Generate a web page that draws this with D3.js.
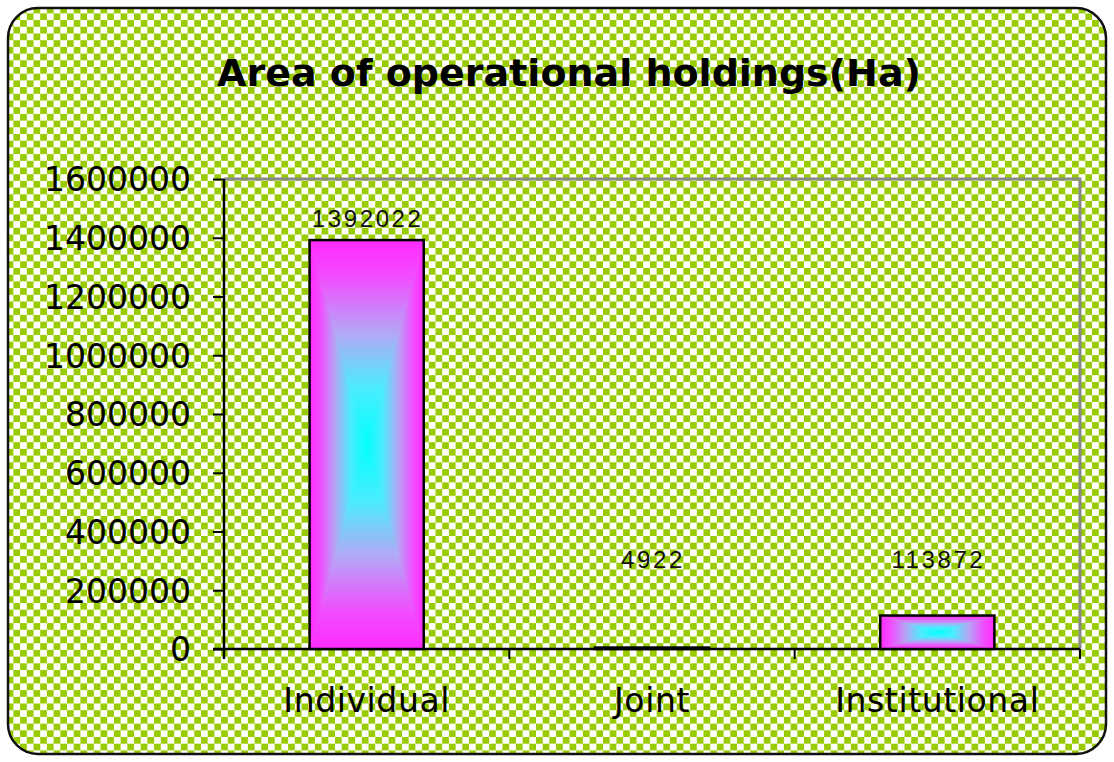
<!DOCTYPE html>
<html>
<head>
<meta charset="utf-8">
<script src="https://cdn.jsdelivr.net/npm/d3@7"></script>
<style>
  html, body { margin: 0; padding: 0; background: #fff; }
  svg { display: block; }
</style>
</head>
<body>
<svg id="stage" width="1114" height="762"></svg>
<script>
// chart data
const categories = ["Individual", "Joint", "Institutional"];
const values = [1392022, 4922, 113872];
const yTicks = [0, 200000, 400000, 600000, 800000, 1000000, 1200000, 1400000, 1600000];
const title = "Area of operational holdings(Ha)";

// labels never sit lower than this value on the y scale
const labelFloor = 231000;

const svg = d3.select("#stage");
const W = 1114, H = 762;
const plot = { left: 224, top: 179, right: 1080, bottom: 649 };

const defs = svg.append("defs");

// green / white checkerboard fill
const cell = 6.7;
const pat = defs.append("pattern")
  .attr("id", "checker")
  .attr("patternUnits", "userSpaceOnUse")
  .attr("width", cell * 2)
  .attr("height", cell * 2);
pat.append("rect").attr("width", cell * 2).attr("height", cell * 2).attr("fill", "#fff");
pat.append("rect").attr("width", cell).attr("height", cell).attr("fill", "#99cc00");
pat.append("rect").attr("x", cell).attr("y", cell).attr("width", cell).attr("height", cell).attr("fill", "#99cc00");

// box ("from centre") gradient: four directional linear gradients
const gradStops = [
  [0, "#ff2bff"],
  [0.18, "#f24cff"],
  [0.45, "#b4a6f6"],
  [0.72, "#4cecff"],
  [1, "#00ffff"],
];
const dirs = {
  top: [0, 0, 0, 1],
  bottom: [0, 1, 0, 0],
  left: [0, 0, 1, 0],
  right: [1, 0, 0, 0],
};
Object.entries(dirs).forEach(([k, [x1, y1, x2, y2]]) => {
  const g = defs.append("linearGradient")
    .attr("id", "grad-" + k)
    .attr("x1", x1).attr("y1", y1).attr("x2", x2).attr("y2", y2);
  gradStops.forEach(([o, c]) => g.append("stop").attr("offset", o).attr("stop-color", c));
});

// chart area background
svg.append("rect")
  .attr("x", 8).attr("y", 8)
  .attr("width", W - 16).attr("height", H - 16)
  .attr("rx", 30).attr("ry", 30)
  .attr("fill", "url(#checker)")
  .attr("stroke", "#111")
  .attr("stroke-width", 2.5);

// title
svg.append("text")
  .attr("x", 569).attr("y", 86)
  .attr("text-anchor", "middle")
  .attr("font-family", "'DejaVu Sans', sans-serif")
  .attr("font-weight", "bold")
  .attr("font-size", 38)
  .attr("fill", "#000")
  .text(title);

const x = d3.scaleBand()
  .domain(categories)
  .range([plot.left, plot.right])
  .paddingInner(0)
  .paddingOuter(0);

const y = d3.scaleLinear()
  .domain([0, d3.max(yTicks)])
  .range([plot.bottom, plot.top]);

// plot-area frame (grey top / right)
svg.append("path")
  .attr("d", `M${plot.left},${plot.top}H${plot.right}V${plot.bottom}`)
  .attr("fill", "none")
  .attr("stroke", "#888")
  .attr("stroke-width", 3);

// y axis
const yAxis = svg.append("g")
  .attr("transform", `translate(${plot.left},0)`)
  .call(d3.axisLeft(y).tickValues(yTicks).tickFormat(d3.format("d")).tickSize(11).tickPadding(22));
yAxis.select(".domain").attr("stroke", "#000").attr("stroke-width", 2.5)
  .attr("d", `M0,${plot.top}V${plot.bottom + 10}`);
yAxis.selectAll(".tick line").attr("stroke", "#000").attr("stroke-width", 2);
yAxis.selectAll(".tick text")
  .attr("font-family", "'DejaVu Sans', sans-serif")
  .attr("font-size", 33)
  .attr("dy", "0.36em")
  .attr("fill", "#000");

// x axis line and category boundary ticks
const xAxisG = svg.append("g");
xAxisG.append("line")
  .attr("x1", plot.left - 11).attr("x2", plot.right)
  .attr("y1", plot.bottom).attr("y2", plot.bottom)
  .attr("stroke", "#000").attr("stroke-width", 2.5);
const bounds = categories.map((c) => x(c)).concat([x(categories[categories.length - 1]) + x.bandwidth()]);
xAxisG.selectAll(".btick")
  .data(bounds.slice(1))
  .enter().append("line")
  .attr("x1", (d) => d).attr("x2", (d) => d)
  .attr("y1", plot.bottom).attr("y2", plot.bottom + 10)
  .attr("stroke", "#000").attr("stroke-width", 2);
xAxisG.selectAll(".xlabel")
  .data(categories)
  .enter().append("text")
  .attr("x", (d) => x(d) + x.bandwidth() / 2)
  .attr("y", plot.bottom + 63)
  .attr("text-anchor", "middle")
  .attr("font-family", "'DejaVu Sans', sans-serif")
  .attr("font-size", 33)
  .attr("letter-spacing", 0.6)
  .attr("fill", "#000")
  .text((d) => d);

// bars
const barW = x.bandwidth() * 0.4;
const bars = svg.selectAll(".bar")
  .data(categories.map((c, i) => ({ c, v: values[i] })))
  .enter().append("g")
  .attr("class", "bar");

bars.each(function (d) {
  const g = d3.select(this);
  const x0 = x(d.c) + (x.bandwidth() - barW) / 2;
  const x1 = x0 + barW;
  const y0 = y(d.v);
  const y1 = y(0);
  const cx = (x0 + x1) / 2, cy = (y0 + y1) / 2;
  const tris = [
    ["top", `M${x0},${y0}L${x1},${y0}L${cx},${cy}Z`],
    ["bottom", `M${x0},${y1}L${x1},${y1}L${cx},${cy}Z`],
    ["left", `M${x0},${y0}L${x0},${y1}L${cx},${cy}Z`],
    ["right", `M${x1},${y0}L${x1},${y1}L${cx},${cy}Z`],
  ];
  tris.forEach(([k, p]) => {
    g.append("path").attr("d", p).attr("fill", `url(#grad-${k})`)
      .attr("stroke", `url(#grad-${k})`).attr("stroke-width", 0.6);
  });
  g.append("rect")
    .attr("x", x0).attr("y", y0)
    .attr("width", barW).attr("height", Math.max(0, y1 - y0))
    .attr("fill", "none")
    .attr("stroke", "#000")
    .attr("stroke-width", 2.5);
});

// data labels
svg.selectAll(".dlabel")
  .data(categories.map((c, i) => ({ c, v: values[i] })))
  .enter().append("text")
  .attr("x", (d) => x(d.c) + x.bandwidth() / 2 + 1)
  .attr("y", (d) => y(Math.max(d.v, labelFloor)) - 13)
  .attr("text-anchor", "middle")
  .attr("font-family", "'Liberation Sans', Arial, sans-serif")
  .attr("font-size", 24)
  .attr("letter-spacing", 2.6)
  .attr("fill", "#111")
  .text((d) => d.v);
</script>
</body>
</html>
